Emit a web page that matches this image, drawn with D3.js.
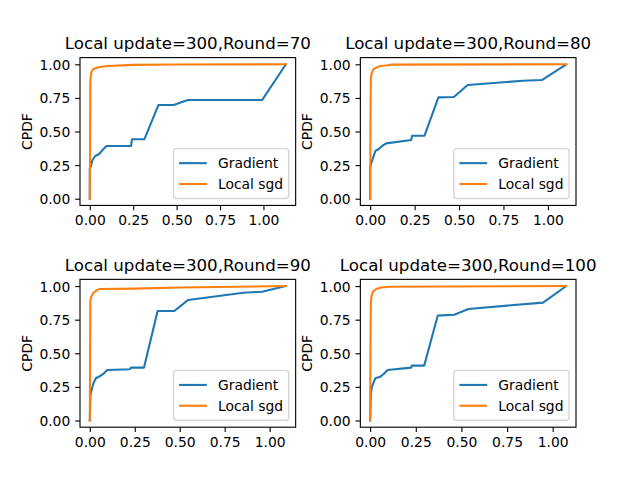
<!DOCTYPE html>
<html>
<head>
<meta charset="utf-8">
<script src="https://cdn.jsdelivr.net/npm/d3@7"></script>
<style>
  html, body { margin: 0; padding: 0; background: #fff; }
  svg { display: block; font-family: "DejaVu Sans", sans-serif; }
</style>
</head>
<body>
<svg id="chart" width="640" height="480"></svg>
<script>
// ---- Data ----
const titles = [
  "Local update=300,Round=70",
  "Local update=300,Round=80",
  "Local update=300,Round=90",
  "Local update=300,Round=100"
];
const seriesNames = ["Gradient", "Local sgd"];
const seriesColors = ["#1f77b4", "#ff7f0e"];
const xTicks = [0, 0.25, 0.5, 0.75, 1.0];
const yTicks = [0, 0.25, 0.5, 0.75, 1.0];

// Round 70
const grad70X = [0, 0, 0.006, 0.015, 0.031, 0.054, 0.073, 0.096, 0.237, 0.243, 0.314, 0.395, 0.483, 0.564, 0.992, 1.129];
const grad70Y = [0, 0.226, 0.24, 0.288, 0.318, 0.333, 0.362, 0.392, 0.392, 0.442, 0.442, 0.697, 0.697, 0.734, 0.734, 1.0];
const sgd70X = [0, 0.002, 0.003, 0.005, 0.01, 0.02, 0.05, 0.1, 0.25, 0.5, 1.129];
const sgd70Y = [0, 0.5, 0.85, 0.91, 0.945, 0.965, 0.978, 0.988, 0.996, 0.999, 1.0];

// Round 80
const grad80X = [0, 0, 0.006, 0.015, 0.030, 0.049, 0.062, 0.090, 0.231, 0.236, 0.306, 0.384, 0.471, 0.549, 0.859, 0.966, 1.103];
const grad80Y = [0, 0.238, 0.263, 0.30, 0.357, 0.37, 0.387, 0.412, 0.437, 0.469, 0.469, 0.754, 0.757, 0.846, 0.878, 0.883, 1.0];
const sgd80X = [0, 0.002, 0.004, 0.01, 0.02, 0.05, 0.1, 0.12, 1.103];
const sgd80Y = [0, 0.6, 0.9, 0.94, 0.965, 0.985, 0.993, 0.998, 1.0];

// Round 90
const grad90X = [0, 0.004, 0.0105, 0.02, 0.034, 0.057, 0.075, 0.097, 0.223, 0.229, 0.301, 0.377, 0.47, 0.547, 0.853, 0.958, 1.09];
const grad90Y = [0, 0.202, 0.227, 0.277, 0.314, 0.331, 0.346, 0.376, 0.381, 0.393, 0.393, 0.815, 0.815, 0.897, 0.951, 0.958, 1.0];
const sgd90X = [0, 0.002, 0.003, 0.008, 0.02, 0.04, 0.055, 0.25, 0.5, 1.09];
const sgd90Y = [0, 0.6, 0.89, 0.92, 0.95, 0.97, 0.978, 0.981, 0.99, 1.0];

// Round 100
const grad100X = [0, 0.004, 0.01, 0.028, 0.056, 0.074, 0.096, 0.225, 0.228, 0.296, 0.37, 0.461, 0.538, 0.947, 1.074];
const grad100Y = [0, 0.202, 0.252, 0.314, 0.326, 0.346, 0.376, 0.393, 0.408, 0.408, 0.78, 0.787, 0.83, 0.877, 1.0];
const sgd100X = [0, 0.002, 0.004, 0.008, 0.015, 0.033, 0.06, 0.105, 1.074];
const sgd100Y = [0, 0.6, 0.88, 0.93, 0.958, 0.978, 0.99, 0.995, 1.0];

const panels = [
  { title: titles[0], series: [[grad70X, grad70Y], [sgd70X, sgd70Y]] },
  { title: titles[1], series: [[grad80X, grad80Y], [sgd80X, sgd80Y]] },
  { title: titles[2], series: [[grad90X, grad90Y], [sgd90X, sgd90Y]] },
  { title: titles[3], series: [[grad100X, grad100Y], [sgd100X, sgd100Y]] }
];

// ---- Layout (matplotlib-like subplot geometry) ----
const W = 640, H = 480;
const pt = 100 / 72;
const figLeft = 0.125 * W, figRight = 0.9 * W, figTop = (1 - 0.88) * H, figBottom = (1 - 0.11) * H;
const wspace = 0.3, hspace = 0.5;
const aw = (figRight - figLeft) / (2 + wspace);
const ah = (figBottom - figTop) / (2 + hspace);
const tickFs = 10 * pt, titleFs = 12 * pt;
const tickLen = 3.5 * pt, tickPad = 3.5 * pt;

const svg = d3.select("#chart");
svg.append("rect").attr("width", W).attr("height", H).attr("fill", "#fff");

panels.forEach((p, i) => {
  const col = i % 2, row = Math.floor(i / 2);
  const x0 = figLeft + col * aw * (1 + wspace);
  const y0 = figTop + row * ah * (1 + hspace);
  const g = svg.append("g").attr("transform", `translate(${x0},${y0})`);

  const allX = p.series.flatMap(s => s[0]);
  const xmin = d3.min(allX), xmax = d3.max(allX);
  const xs = xmax - xmin;
  const x = d3.scaleLinear().domain([xmin - 0.05 * xs, xmax + 0.05 * xs]).range([0, aw]);
  const y = d3.scaleLinear().domain([-0.05, 1.05]).range([ah, 0]);

  // lines
  const line = d3.line().x(d => x(d[0])).y(d => y(d[1]));
  p.series.forEach((s, k) => {
    const pts = s[0].map((v, j) => [v, s[1][j]]);
    g.append("path").datum(pts)
      .attr("d", line)
      .attr("fill", "none")
      .attr("stroke", seriesColors[k])
      .attr("stroke-width", 1.5 * pt)
      .attr("stroke-linejoin", "round")
      .attr("stroke-linecap", "square");
  });

  // axes
  const xAxis = d3.axisBottom(x).tickValues(xTicks).tickFormat(d3.format(".2f"))
    .tickSizeInner(tickLen).tickSizeOuter(0).tickPadding(tickPad);
  const yAxis = d3.axisLeft(y).tickValues(yTicks).tickFormat(d3.format(".2f"))
    .tickSizeInner(tickLen).tickSizeOuter(0).tickPadding(tickPad);

  const gx = g.append("g").attr("transform", `translate(0,${ah})`).call(xAxis);
  const gy = g.append("g").call(yAxis);
  [gx, gy].forEach(a => {
    a.select(".domain").remove();
    a.selectAll(".tick line").attr("stroke", "#000").attr("stroke-width", 0.8 * pt);
    a.selectAll(".tick text").attr("fill", "#000")
      .style("font-family", "DejaVu Sans").style("font-size", tickFs + "px");
  });
  gx.selectAll(".tick text").attr("dy", null).attr("y", tickLen + tickPad + 10.3);
  gy.selectAll(".tick text").attr("dy", null).attr("dominant-baseline", null).attr("y", 5);

  // spines
  g.append("rect").attr("x", 0).attr("y", 0).attr("width", aw).attr("height", ah)
    .attr("fill", "none").attr("stroke", "#000").attr("stroke-width", 0.8 * pt);

  // title
  g.append("text").attr("x", aw / 2).attr("y", -6 * pt)
    .attr("text-anchor", "middle").style("font-size", titleFs + "px").attr("fill", "#000")
    .text(p.title);

  // y label
  g.append("text")
    .attr("transform", `translate(${-48},${ah / 2}) rotate(-90)`)
    .attr("text-anchor", "middle").style("font-size", tickFs + "px").attr("fill", "#000")
    .text("CPDF");

  // legend (lower right)
  const bp = 0.4 * tickFs, ls = 0.5 * tickFs, hl = 2.0 * tickFs, htp = 0.8 * tickFs, bap = 0.5 * tickFs;
  const rowH = tickFs;
  const lg = g.append("g");
  const texts = seriesNames.map((n, k) => lg.append("text").style("font-size", tickFs + "px").attr("fill", "#000").text(n));
  const tw = d3.max(texts, t => t.node().getComputedTextLength());
  const lw = 2 * bp + hl + htp + tw;
  const lh = 2 * bp + 2 * rowH + ls + 4;
  const lx = aw - bap - lw, ly = ah - bap - lh;
  lg.insert("rect", "text").attr("x", lx).attr("y", ly).attr("width", lw).attr("height", lh)
    .attr("rx", 0.2 * tickFs).attr("fill", "rgba(255,255,255,0.8)")
    .attr("stroke", "rgba(204,204,204,0.8)").attr("stroke-width", 1 * pt);
  seriesNames.forEach((n, k) => {
    const cy = ly + bp + 2 + rowH / 2 + k * (rowH + ls);
    lg.append("line").attr("x1", lx + bp).attr("x2", lx + bp + hl)
      .attr("y1", cy).attr("y2", cy)
      .attr("stroke", seriesColors[k]).attr("stroke-width", 1.5 * pt);
    texts[k].attr("x", lx + bp + hl + htp).attr("y", cy + 5);
  });
});
</script>
</body>
</html>
